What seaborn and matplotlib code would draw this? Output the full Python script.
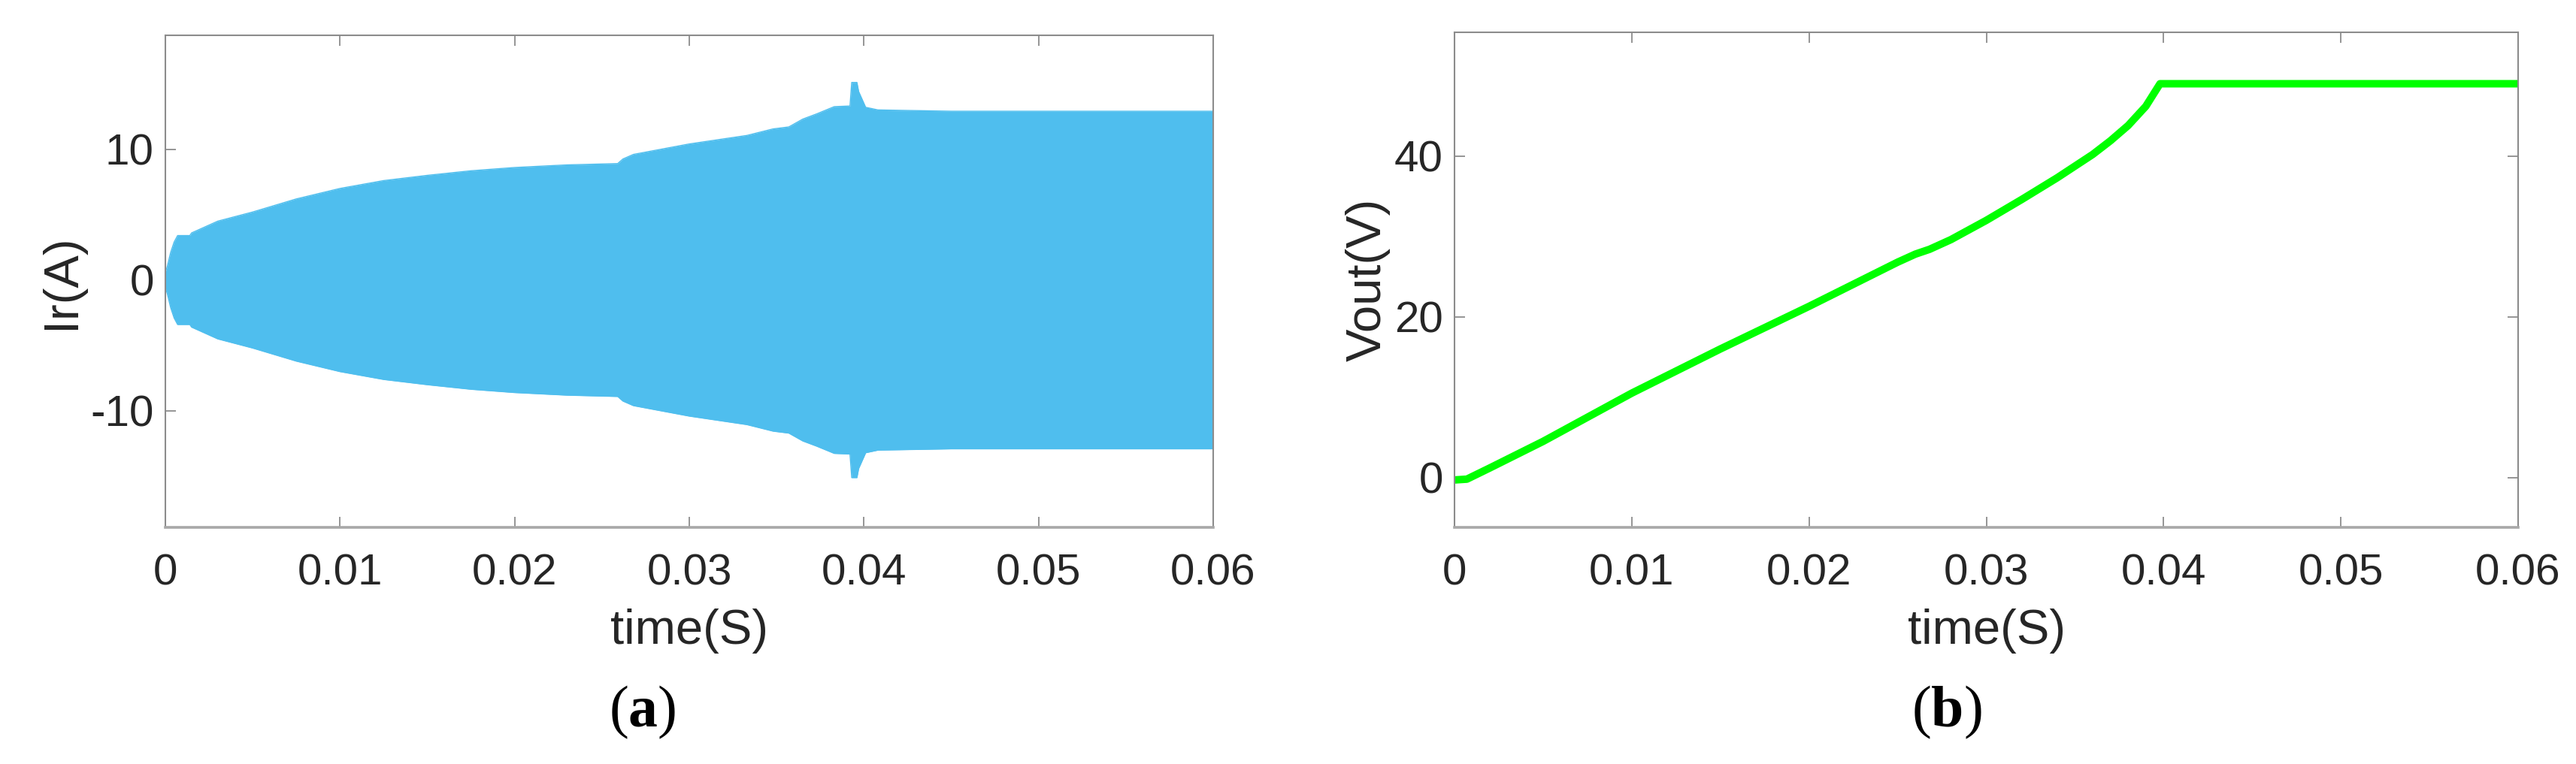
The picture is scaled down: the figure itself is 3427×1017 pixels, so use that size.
import numpy as np
import pandas as pd
import matplotlib
matplotlib.use("Agg")
import matplotlib.pyplot as plt
import seaborn as sns

# ---------------- data ----------------
# (a) resonant current Ir: envelope of the high-frequency oscillation
t_env = [0.0, 0.0001, 0.0003, 0.0005, 0.0007, 0.0014, 0.0015, 0.003, 0.005,
         0.0075, 0.01, 0.0125, 0.015, 0.0175, 0.02, 0.023, 0.0259, 0.0262,
         0.0268, 0.028, 0.03, 0.0333, 0.0348, 0.0357, 0.0365, 0.0373, 0.0383,
         0.0392, 0.0393, 0.0396, 0.0397, 0.0399, 0.0401, 0.0408, 0.045, 0.05,
         0.055, 0.06]
ir_upper = [0.6, 1.0, 2.1, 2.9, 3.4, 3.4, 3.6, 4.5, 5.2,
            6.2, 7.0, 7.6, 8.0, 8.35, 8.6, 8.8, 8.9, 9.25,
            9.6, 9.9, 10.4, 11.05, 11.55, 11.7, 12.3, 12.7, 13.25,
            13.3, 15.1, 15.1, 14.4, 13.8, 13.2, 13.0, 12.9, 12.9,
            12.9, 12.9]
ir_lower = [-v for v in ir_upper]

# (b) output voltage Vout
t_v = [0.0, 0.0007, 0.002, 0.005, 0.01, 0.015, 0.02, 0.025, 0.026, 0.0268,
       0.028, 0.03, 0.032, 0.034, 0.036, 0.037, 0.038, 0.039, 0.0398, 0.045,
       0.05, 0.055, 0.06]
vout = [-0.3, -0.2, 1.2, 4.5, 10.5, 16.0, 21.3, 26.8, 27.8, 28.4,
        29.6, 32.0, 34.6, 37.3, 40.2, 41.9, 43.8, 46.2, 49.0, 49.0,
        49.0, 49.0, 49.0]

x_ticks = [0, 0.01, 0.02, 0.03, 0.04, 0.05, 0.06]
x_ticklabels = ["0", "0.01", "0.02", "0.03", "0.04", "0.05", "0.06"]
ir_ticks = [-10, 0, 10]
v_ticks = [0, 20, 40]

# ---------------- style ----------------
sns.set_theme(style="white")
plt.rcParams["font.family"] = ["Liberation Sans", "DejaVu Sans"]
plt.rcParams["mathtext.fontset"] = "custom"
plt.rcParams["mathtext.rm"] = "Liberation Serif"
plt.rcParams["mathtext.bf"] = "Liberation Serif:bold"

W, H = 3427, 1017
fig = plt.figure(figsize=(W / 100, H / 100), dpi=100)
ax1 = fig.add_axes([220 / W, 1 - 702 / H, 1394 / W, 655 / H])
ax2 = fig.add_axes([1935 / W, 1 - 702 / H, 1415 / W, 659 / H])

blue = "#4FBEEE"
green = "#00FF00"
spine_col = "#8c8c8c"
text_col = "#262626"

# (a)
env = pd.DataFrame({"t": t_env, "up": ir_upper, "lo": ir_lower})
ax1.fill_between(env["t"], env["lo"], env["up"], color=blue, linewidth=0)
sns.lineplot(data=env, x="t", y="up", ax=ax1, color=blue, linewidth=1.0)
sns.lineplot(data=env, x="t", y="lo", ax=ax1, color=blue, linewidth=1.0)
ax1.set_xlim(0, 0.06)
ax1.set_ylim(-18.9, 18.7)
ax1.set_yticks(ir_ticks)
ax1.set_yticklabels([str(v) for v in ir_ticks])
ax1.set_ylabel("Ir(A)", fontsize=47, color=text_col, labelpad=6)

# (b)
vd = pd.DataFrame({"t": t_v, "v": vout})
sns.lineplot(data=vd, x="t", y="v", ax=ax2, color=green, linewidth=7.2)
ax2.set_xlim(0, 0.06)
ax2.set_ylim(-6.2, 55.4)
ax2.set_yticks(v_ticks)
ax2.set_yticklabels([str(v) for v in v_ticks])
ax2.set_ylabel("Vout(V)", fontsize=47, color=text_col, labelpad=4)

for ax in (ax1, ax2):
    ax.set_xticks(x_ticks)
    ax.set_xticklabels(x_ticklabels)
    ax.set_xlabel("time(S)", fontsize=47, color=text_col, labelpad=14)
    ax.tick_params(axis="both", direction="in", length=10, width=1.3,
                   color=spine_col, labelsize=42, labelcolor=text_col,
                   top=True, right=True, bottom=True, left=True)
    ax.tick_params(axis="x", pad=25)
    ax.tick_params(axis="y", pad=11)
    for s in ax.spines.values():
        s.set_visible(True)
        s.set_color(spine_col)
        s.set_linewidth(1.5)
    ax.spines["bottom"].set_color("#a8a8a8")
    ax.spines["bottom"].set_linewidth(2.6)
    ax.set_facecolor("white")

fig.text(855 / W, 1 - 948 / H, r"($\mathbf{a}$)", fontsize=56,
         family="Liberation Serif", ha="center", va="center", color="black")
fig.text(2590 / W, 1 - 948 / H, r"($\mathbf{b}$)", fontsize=56,
         family="Liberation Serif", ha="center", va="center", color="black")

fig.savefig("out.png", dpi=100, facecolor="white")
